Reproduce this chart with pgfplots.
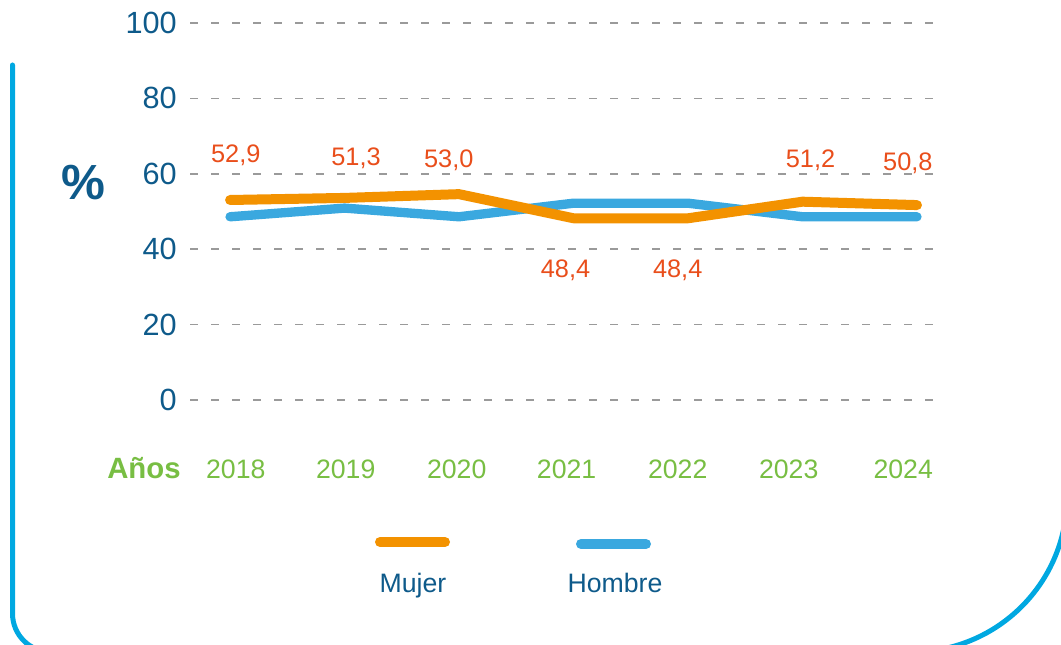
\documentclass[border=0pt]{standalone}
\usepackage{pgfplots}
\pgfplotsset{compat=1.18}
\usepackage{fontspec}
\setmainfont{Liberation Sans}
\definecolor{cOrange}{HTML}{F39200}
\definecolor{cBlue}{HTML}{3AA8DF}
\definecolor{cLabel}{HTML}{E94E1B}
\definecolor{cDark}{HTML}{0E5A8A}
\definecolor{cGreen}{HTML}{78BE43}
\definecolor{cFrame}{HTML}{00A8E1}
\definecolor{cGrid}{HTML}{9A9A9A}
\begin{document}
\begin{tikzpicture}[x=0.75pt,y=0.75pt]
\useasboundingbox (0,0) rectangle (1061,645);
\begin{axis}[
  at={(142.5pt,183.75pt)}, anchor=south west,
  scale only axis, width=557.25pt, height=282.75pt,
  xmin=-0.35, xmax=6.14, ymin=0, ymax=100,
  axis line style={draw=none},
  major tick length=0pt,
  ytick={0,20,40,60,80,100},
  xtick={0.05,1.01,1.98,2.94,3.91,4.88,5.88},
  xticklabels={2018,2019,2020,2021,2022,2023,2024},
  /pgf/number format/assume math mode=true,
  yticklabel style={font=\fontsize{23}{27}\selectfont, text=cDark, anchor=east, inner sep=0pt, xshift=-9.75pt},
  xticklabel style={font=\fontsize{20}{24}\selectfont, text=cGreen, anchor=base, inner sep=0pt, yshift=-59.25pt},
  ymajorgrids,
  major grid style={cGrid, line width=1.1pt, dash pattern=on 6pt off 9.75pt},
  clip=false,
]
\addplot[cBlue, line width=7pt, line cap=round, line join=round] coordinates {
  (0,48.6) (1,50.9) (2,48.6) (3,52.2) (4,52.2) (5,48.6) (6,48.6)};
\addplot[cOrange, line width=7.5pt, line cap=round, line join=round] coordinates {
  (0,53.05) (1,53.6) (2,54.6) (3,48.2) (4,48.2) (5,52.6) (6,51.7)};
\begin{scope}[every node/.style={font=\fontsize{19}{23}\selectfont, text=cLabel, anchor=base, inner sep=0pt}]
\node at (axis cs:0.05,63.1) {52,9};
\node at (axis cs:1.10,62.3) {51,3};
\node at (axis cs:1.91,61.8) {53,0};
\node at (axis cs:2.93,32.4) {48,4};
\node at (axis cs:3.91,32.4) {48,4};
\node at (axis cs:5.07,61.8) {51,2};
\node at (axis cs:5.92,61.0) {50,8};
\end{scope}
\end{axis}
% axis titles
\node[font=\fontsize{37}{41}\selectfont\bfseries, text=cDark, inner sep=0pt] at (83,462) {\%};
\node[font=\fontsize{22}{26}\selectfont\bfseries, text=cGreen, anchor=base west, inner sep=0pt] at (107,166) {Años};
% legend
\draw[cOrange, line width=7.5pt, line cap=round] (380,103) -- (445,103);
\draw[cBlue, line width=7.5pt, line cap=round] (581,101) -- (646,101);
\node[font=\fontsize{20}{24}\selectfont, text=cDark, anchor=base, inner sep=0pt] at (413,52) {Mujer};
\node[font=\fontsize{20}{24}\selectfont, text=cDark, anchor=base, inner sep=0pt] at (615,52) {Hombre};
% frame
\draw[cFrame, line width=3.75pt, line cap=round] (12.5,580) -- (12.5,31.5) arc[start angle=180, end angle=270, radius=38.5] -- (912,-7) arc[start angle=270, end angle=360, radius=155] -- (1067,700);
\end{tikzpicture}
\end{document}
